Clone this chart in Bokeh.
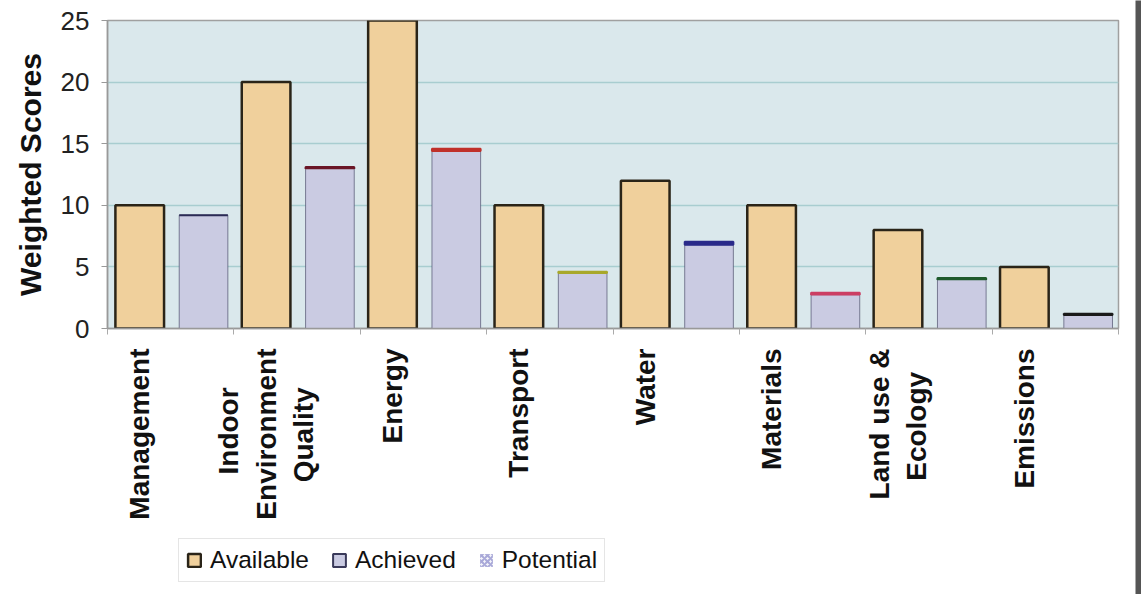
import math
from bokeh.plotting import figure
from bokeh.models import (ColumnDataSource, Range1d, FixedTicker, LinearAxis,
                          Legend, LegendItem)
from bokeh.layouts import row, column
from bokeh.embed import file_html
from bokeh.resources import INLINE

# ---- data ----
categories = ["Management", "Indoor\nEnvironment\nQuality", "Energy", "Transport",
              "Water", "Materials", "Land use &\nEcology", "Emissions"]
series_names = ["Available", "Achieved", "Potential"]
available = [10, 20, 25, 10, 12, 10, 8, 5]
achieved = [9.2, 13.0, 14.4, 4.5, 6.8, 2.75, 4.0, 1.1]
potential = [0.0, 0.1, 0.2, 0.1, 0.25, 0.15, 0.1, 0.1]
y_ticks = [0, 5, 10, 15, 20, 25]

# ---- styles ----
pot_colors = ["#2b2b55", "#6a1526", "#c0302a", "#a8a82a", "#2a2a8a",
              "#cc3d63", "#1f5a2c", "#1a1a1a"]
AVAIL_OFF, ACH_OFF, BAR_W = 0.255, 0.76, 0.385
FONT = "Liberation Sans"
NBSP = "\u00a0"
AV_STYLE = dict(fill_color="#f0d09c", line_color="#2a2418", line_width=2.5)
AC_STYLE = dict(fill_color="#cacbe2", line_color="#3a3a5a", line_width=1, line_alpha=0.6)
AC_LEG_STYLE = dict(fill_color="#cacbe2", line_color="#3a3a5a", line_width=2)
PO_STYLE = dict(fill_color="#f4f4fa", hatch_pattern="diagonal_cross",
                hatch_color="#a8a8d8", hatch_scale=6, hatch_weight=2, line_color=None)
# Arial/Liberation Sans Bold advance widths (per 1000 em), used to centre
# the lines of multi-line rotated tick labels
W = {" ": 278, "&": 722, "E": 667, "I": 278, "L": 611, "M": 833, "Q": 778,
     "T": 611, "W": 944, "a": 556, "c": 556, "d": 611, "e": 556, "g": 611,
     "i": 278, "l": 278, "m": 889, "n": 611, "o": 611, "p": 611, "r": 389,
     "s": 556, "t": 333, "u": 611, "v": 556, "y": 556}


def em_len(s):
    return sum(W.get(ch, 556) for ch in s) / 1000.0


def centred(label):
    lines = label.split("\n")
    longest = max(em_len(s) for s in lines)
    out = []
    for s in lines:
        pad = round((longest - em_len(s)) / 2.0 / 0.278)
        out.append(s + NBSP * pad)
    return "\n".join(out)


n = len(categories)
src = ColumnDataSource(dict(
    xa=[i + AVAIL_OFF for i in range(n)],
    xb=[i + ACH_OFF for i in range(n)],
    avail=available,
    ach=achieved,
    pot_top=[a + p for a, p in zip(achieved, potential)],
    pcol=pot_colors,
))

p = figure(frame_width=1011, frame_height=308, output_backend="svg", toolbar_location=None,
           x_range=Range1d(0, n), y_range=Range1d(0, 25),
           min_border_left=107, min_border_top=20, min_border_right=17,
           min_border_bottom=200, x_axis_location=None)
p.background_fill_color = "#dae8ec"
p.border_fill_color = "white"
p.outline_line_color = "#a0a0a0"
p.outline_line_width = 1.5
p.xgrid.grid_line_color = None
p.ygrid.grid_line_color = "#a8cdd0"
p.ygrid.grid_line_width = 1.5
p.ygrid.ticker = FixedTicker(ticks=y_ticks)

p.vbar(x="xa", top="avail", bottom=0, width=BAR_W, source=src, **AV_STYLE)
p.vbar(x="xb", top="ach", bottom=0, width=BAR_W, source=src, **AC_STYLE)
p.vbar(x="xb", top="pot_top", bottom="ach", width=BAR_W, source=src,
       fill_color="pcol", line_color="pcol", line_width=2)

# y axis
ya = p.yaxis[0]
ya.ticker = FixedTicker(ticks=y_ticks)
ya.axis_label = "Weighted Scores"
ya.axis_label_text_font = FONT
ya.axis_label_text_font_style = "bold"
ya.axis_label_text_font_size = "30px"
ya.axis_label_text_color = "#111111"
ya.axis_label_standoff = 11
ya.major_label_text_font = FONT
ya.major_label_text_font_size = "26px"
ya.major_label_text_color = "#222222"
ya.major_label_standoff = 12
ya.axis_line_color = "#999999"
ya.axis_line_width = 1.5
ya.major_tick_line_color = "#999999"
ya.major_tick_out = 6
ya.major_tick_in = 0
ya.minor_tick_line_color = None

# x axis 1: boundary ticks
xa1 = LinearAxis(ticker=FixedTicker(ticks=list(range(n + 1))))
xa1.major_label_text_font_size = "1px"
xa1.major_label_text_alpha = 0
xa1.major_label_standoff = 0
xa1.axis_line_color = "#999999"
xa1.axis_line_width = 1.5
xa1.major_tick_line_color = "#aaaaaa"
xa1.major_tick_out = 6
xa1.major_tick_in = 0
xa1.minor_tick_line_color = None
p.add_layout(xa1, "below")

# x axis 2: category labels
label_pos = [i + AVAIL_OFF for i in range(n)]
xa2 = LinearAxis(ticker=FixedTicker(ticks=label_pos))
xa2.major_label_overrides = {lp: centred(c) for lp, c in zip(label_pos, categories)}
xa2.major_label_orientation = math.pi / 2
xa2.major_label_text_font = FONT
xa2.major_label_text_font_style = "bold"
xa2.major_label_text_font_size = "28px"
xa2.major_label_text_color = "#111111"
xa2.major_label_standoff = 14
xa2.axis_line_color = None
xa2.major_tick_line_color = None
xa2.minor_tick_line_color = None
xa2.major_tick_out = 0
xa2.major_tick_in = 0
p.add_layout(xa2, "below")

# legend lives in its own strip figure below the chart; its swatch renderers
# are tiny marks hidden underneath the opaque legend box
lf = figure(width=1135, height=66, output_backend="svg", toolbar_location=None,
            min_border=0, x_axis_location=None, y_axis_location=None,
            x_range=Range1d(0, 1), y_range=Range1d(0, 1))
lf.grid.visible = False
lf.outline_line_color = None
lf.background_fill_color = "white"
lr_av = lf.vbar(x=[0.2], bottom=[0.45], top=[0.55], width=0.005, **AV_STYLE)
lr_ac = lf.vbar(x=[0.2], bottom=[0.45], top=[0.55], width=0.005, **AC_LEG_STYLE)
lr_po = lf.vbar(x=[0.2], bottom=[0.45], top=[0.55], width=0.005, **PO_STYLE)
legend = Legend(items=[LegendItem(label=series_names[0], renderers=[lr_av]),
                       LegendItem(label=series_names[1], renderers=[lr_ac]),
                       LegendItem(label=series_names[2], renderers=[lr_po])],
                orientation="horizontal", location=(71, 12))
legend.label_text_font = FONT
legend.label_text_font_size = "24.5px"
legend.label_text_color = "#111111"
legend.glyph_width = 16
legend.glyph_height = 16
legend.label_standoff = 8
legend.spacing = 22
legend.padding = 7
legend.margin = 0
legend.border_line_color = "#cccccc"
legend.border_line_width = 1.5
legend.background_fill_color = "white"
legend.background_fill_alpha = 1.0
lf.add_layout(legend)

strip = figure(width=6, height=594, output_backend="svg", toolbar_location=None,
               min_border=0, x_axis_location=None, y_axis_location=None)
strip.background_fill_color = "#555555"
strip.border_fill_color = "#555555"
strip.outline_line_color = None
strip.grid.visible = False

layout = row(column(p, lf, spacing=0), strip, spacing=0)
open("out.html", "w").write(file_html(layout, INLINE))
